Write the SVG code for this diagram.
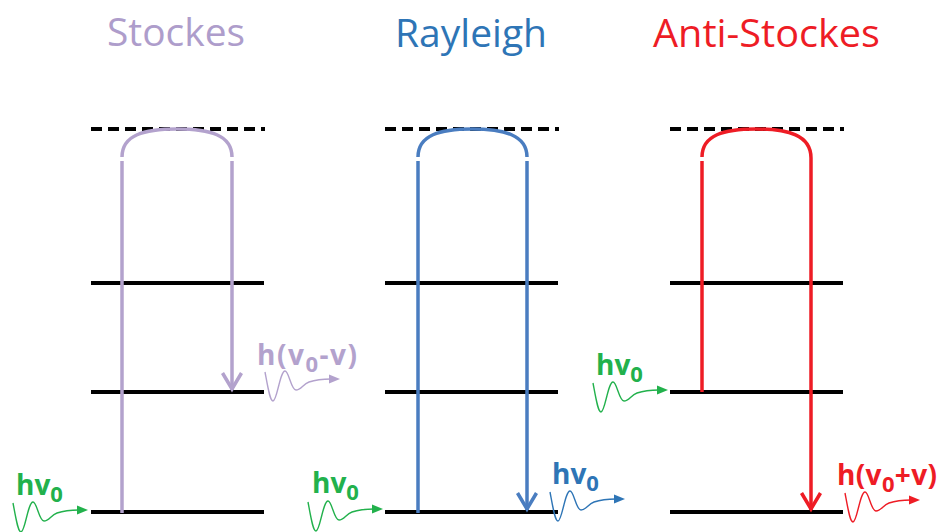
<svg xmlns="http://www.w3.org/2000/svg" xmlns:xlink="http://www.w3.org/1999/xlink" width="938" height="532" viewBox="0 0 938 532">
<style>
.title{font-family:"Open Sans","Liberation Sans",sans-serif;font-size:39px}
.lbl{font-family:"Open Sans","Liberation Sans",sans-serif;font-size:28px;font-weight:bold}
.sub{font-size:22px}
.lvl{stroke:#000;stroke-width:4;fill:none}
.dash{stroke:#000;stroke-width:4;fill:none;stroke-dasharray:11 6}
.lav{stroke:#B3A2CD;stroke-width:3.5;fill:none}
.blu{stroke:#4A7DC0;stroke-width:3.5;fill:none}
.red{stroke:#EE1C25;stroke-width:3.5;fill:none}
</style>
<defs>
<g id="wv">
<path d="M0,0 C3,16 5,29 8,29 C12,29 15,-1 20,-1 C24,-1 26,18 31,18 C36,18 38,12 44,10 C50,8 56,7 66,7" fill="none" stroke-width="1.4"/>
<path d="M75,7 L64,2.5 L64,11.5 Z" stroke="none"/>
</g>
<marker id="ahLav" viewBox="-25 -15 30 30" markerWidth="30" markerHeight="30" refX="0" refY="0" orient="auto" markerUnits="userSpaceOnUse"><path d="M-17,-9.5 L-1,0 L-17,9.5" fill="none" stroke="#B3A2CD" stroke-width="3.5"/></marker>
<marker id="ahBlu" viewBox="-25 -15 30 30" markerWidth="30" markerHeight="30" refX="0" refY="0" orient="auto" markerUnits="userSpaceOnUse"><path d="M-17,-9.5 L-1,0 L-17,9.5" fill="none" stroke="#4A7DC0" stroke-width="3.5"/></marker>
<marker id="ahRed" viewBox="-25 -15 30 30" markerWidth="30" markerHeight="30" refX="0" refY="0" orient="auto" markerUnits="userSpaceOnUse"><path d="M-17,-9.5 L-1,0 L-17,9.5" fill="none" stroke="#EE1C25" stroke-width="3.5"/></marker>
</defs>
<rect width="938" height="532" fill="#fff"/>

<g id="stockes">
<text class="title" x="107" y="46" fill="#AE9DCB" textLength="138" lengthAdjust="spacingAndGlyphs">Stockes</text>
<line class="dash" x1="91" y1="129" x2="265" y2="129"/>
<line class="lvl" x1="91" y1="283" x2="264" y2="283"/>
<line class="lvl" x1="91" y1="392" x2="264" y2="392"/>
<line class="lvl" x1="91" y1="512" x2="264" y2="512"/>
</g>
<g id="rayleigh">
<text class="title" x="395" y="47" fill="#2E75B6" textLength="152" lengthAdjust="spacingAndGlyphs">Rayleigh</text>
<line class="dash" x1="385" y1="129" x2="559" y2="129"/>
<line class="lvl" x1="385" y1="283" x2="558" y2="283"/>
<line class="lvl" x1="385" y1="392" x2="558" y2="392"/>
<line class="lvl" x1="385" y1="512" x2="558" y2="512"/>
</g>
<g id="anti-stockes">
<text class="title" x="653" y="47" fill="#EE1C25" textLength="227" lengthAdjust="spacingAndGlyphs">Anti-Stockes</text>
<line class="dash" x1="670" y1="129" x2="844" y2="129"/>
<line class="lvl" x1="670" y1="283" x2="843" y2="283"/>
<line class="lvl" x1="670" y1="392" x2="843" y2="392"/>
<line class="lvl" x1="670" y1="512" x2="843" y2="512"/>
</g>

<g id="connectors">
<path class="lav" d="M122,157 C122,135 144,129 177,129 C210,129 232,135 232,157"/>
<line class="lav" x1="122" y1="161" x2="122" y2="513"/>
<line class="lav" x1="232" y1="161" x2="232" y2="390" marker-end="url(#ahLav)"/>
<path class="blu" d="M418,157 C418,135 440,129 472,129 C504,129 527,135 527,157"/>
<line class="blu" x1="418" y1="161" x2="418" y2="513"/>
<line class="blu" x1="527" y1="161" x2="527" y2="510" marker-end="url(#ahBlu)"/>
<path class="red" d="M702,157 C702,135 724,129 756,129 C788,129 811,135 811,158 L811,510" marker-end="url(#ahRed)"/>
<line class="red" x1="702" y1="161" x2="702" y2="392"/>
</g>

<g id="photons">
<use xlink:href="#wv" href="#wv" x="13" y="503" stroke="#22B14C" fill="#22B14C"/>
<use xlink:href="#wv" href="#wv" x="265" y="372" stroke="#B3A2CD" fill="#B3A2CD"/>
<use xlink:href="#wv" href="#wv" x="308" y="502" stroke="#22B14C" fill="#22B14C"/>
<use xlink:href="#wv" href="#wv" x="550" y="492" stroke="#2E75B6" fill="#2E75B6"/>
<use xlink:href="#wv" href="#wv" x="593" y="383" stroke="#22B14C" fill="#22B14C"/>
<use xlink:href="#wv" href="#wv" x="845" y="493" stroke="#EE1C25" fill="#EE1C25"/>
</g>

<g id="labels">
<text class="lbl" x="16" y="495" fill="#22B14C">hv<tspan class="sub" dy="7">0</tspan></text>
<text class="lbl" x="257" y="365" fill="#B3A2CD" textLength="100" lengthAdjust="spacing">h(v<tspan class="sub" dy="7">0</tspan><tspan dy="-7">-v)</tspan></text>
<text class="lbl" x="312" y="493" fill="#22B14C">hv<tspan class="sub" dy="7">0</tspan></text>
<text class="lbl" x="552" y="484" fill="#2E75B6">hv<tspan class="sub" dy="7">0</tspan></text>
<text class="lbl" x="596" y="375" fill="#22B14C">hv<tspan class="sub" dy="7">0</tspan></text>
<text class="lbl" x="837" y="485" fill="#EE1C25" textLength="100" lengthAdjust="spacing">h(v<tspan class="sub" dy="7">0</tspan><tspan dy="-7">+v)</tspan></text>
</g>
</svg>
